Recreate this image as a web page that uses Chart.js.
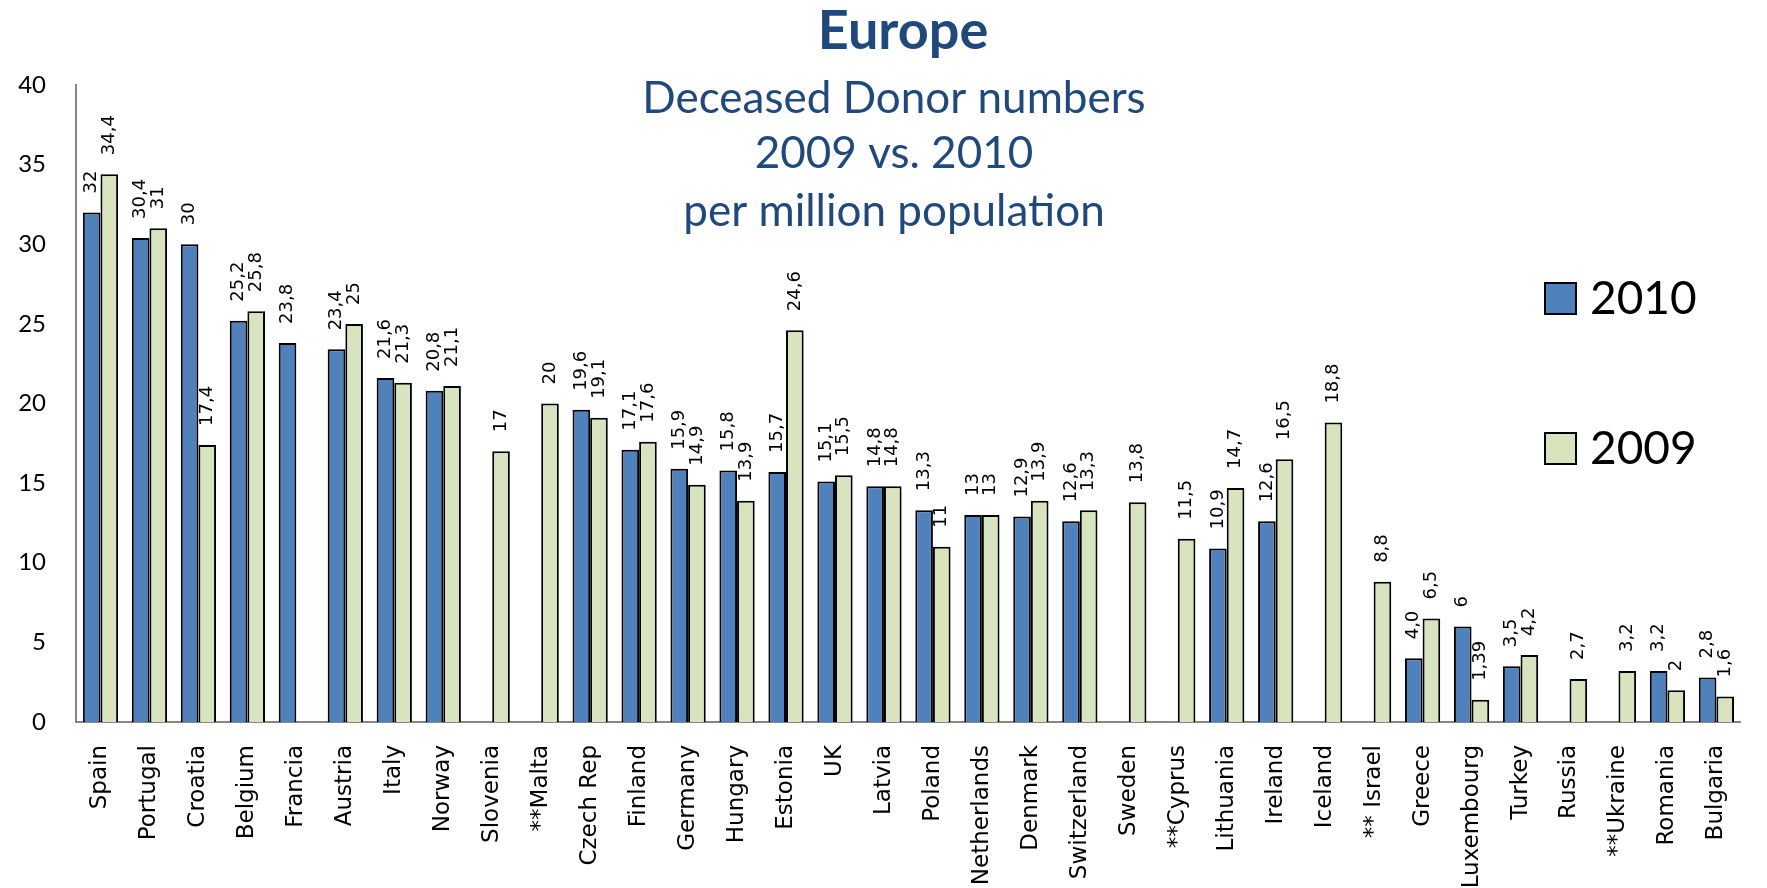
<!DOCTYPE html>
<html>
<head>
<meta charset="utf-8">
<script src="https://cdn.jsdelivr.net/npm/chart.js@4/dist/chart.umd.min.js"></script>
<style>
  html, body { margin: 0; padding: 0; background: #ffffff; }
  #wrap { width: 1767px; height: 888px; }
</style>
</head>
<body>
<div id="wrap"><canvas id="c" width="1767" height="888"></canvas></div>
<script>
// ---- Data ----
const categories = ["Spain", "Portugal", "Croatia", "Belgium", "Francia", "Austria", "Italy", "Norway", "Slovenia", "**Malta",
  "Czech Rep", "Finland", "Germany", "Hungary", "Estonia", "UK", "Latvia", "Poland", "Netherlands", "Denmark",
  "Switzerland", "Sweden", "**Cyprus", "Lithuania", "Ireland", "Iceland", "** Israel", "Greece", "Luxembourg", "Turkey",
  "Russia", "**Ukraine", "Romania", "Bulgaria"];

const values2010 = [32, 30.4, 30, 25.2, 23.8, 23.4, 21.6, 20.8, null, null,
  19.6, 17.1, 15.9, 15.8, 15.7, 15.1, 14.8, 13.3, 13, 12.9,
  12.6, null, null, 10.9, 12.6, null, null, 4.0, 6, 3.5,
  null, null, 3.2, 2.8];

const values2009 = [34.4, 31, 17.4, 25.8, null, 25, 21.3, 21.1, 17, 20,
  19.1, 17.6, 14.9, 13.9, 24.6, 15.5, 14.8, 11, 13, 13.9,
  13.3, 13.8, 11.5, 14.7, 16.5, 18.8, 8.8, 6.5, 1.39, 4.2,
  2.7, 3.2, 2, 1.6];

const labels2010 = ["32", "30,4", "30", "25,2", "23,8", "23,4", "21,6", "20,8", "", "",
  "19,6", "17,1", "15,9", "15,8", "15,7", "15,1", "14,8", "13,3", "13", "12,9",
  "12,6", "", "", "10,9", "12,6", "", "", "4,0", "6", "3,5",
  "", "", "3,2", "2,8"];

const labels2009 = ["34,4", "31", "17,4", "25,8", "", "25", "21,3", "21,1", "17", "20",
  "19,1", "17,6", "14,9", "13,9", "24,6", "15,5", "14,8", "11", "13", "13,9",
  "13,3", "13,8", "11,5", "14,7", "16,5", "18,8", "8,8", "6,5", "1,39", "4,2",
  "2,7", "3,2", "2", "1,6"];

const seriesNames = ["2010", "2009"];
const yTicks = [0, 5, 10, 15, 20, 25, 30, 35, 40];

const titleText = "Europe";
const subtitleLines = ["Deceased Donor numbers", "2009 vs. 2010", "per million population"];

// ---- Plugins ----
const valueLabels = {
  id: 'valueLabels',
  afterDatasetsDraw(chart) {
    const ctx = chart.ctx;
    const lbls = [labels2010, labels2009];
    chart.data.datasets.forEach((ds, i) => {
      const meta = chart.getDatasetMeta(i);
      meta.data.forEach((bar, j) => {
        const v = ds.data[j];
        if (v === null || v === undefined) return;
        ctx.save();
        ctx.translate(bar.x, bar.y - 19);
        ctx.rotate(-Math.PI / 2);
        ctx.font = '18px "DejaVu Sans"';
        ctx.fillStyle = '#000000';
        ctx.textAlign = 'left';
        ctx.textBaseline = 'middle';
        ctx.fillText(lbls[i][j], 0, 0);
        ctx.restore();
      });
    });
  }
};

const overlayText = {
  id: 'overlayText',
  afterDraw(chart) {
    const ctx = chart.ctx;
    ctx.save();
    ctx.fillStyle = '#1F497D';
    ctx.textAlign = 'center';
    ctx.textBaseline = 'middle';
    ctx.font = 'bold 54px Lato';
    ctx.fillText(titleText, 903, 32);
    ctx.font = '44px Lato';
    const ys = [99, 154, 212];
    subtitleLines.forEach((t, k) => ctx.fillText(t, 894, ys[k]));
    // legend
    const ly = [298, 448];
    chart.data.datasets.forEach((ds, i) => {
      ctx.fillStyle = ds.backgroundColor;
      ctx.fillRect(1545, ly[i] - 15, 31, 31);
      ctx.lineWidth = 2;
      ctx.strokeStyle = '#000000';
      ctx.strokeRect(1545, ly[i] - 15, 31, 31);
      ctx.fillStyle = '#000000';
      ctx.textAlign = 'left';
      ctx.font = '46px Lato';
      ctx.fillText(ds.label, 1590, ly[i] + 1);
    });
    ctx.restore();
  }
};

new Chart(document.getElementById('c'), {
  type: 'bar',
  data: {
    labels: categories,
    datasets: [
      { label: seriesNames[0], data: values2010, backgroundColor: '#4F81BD', borderColor: '#000000', borderWidth: 2 },
      { label: seriesNames[1], data: values2009, backgroundColor: '#D7E4BD', borderColor: '#000000', borderWidth: 2 }
    ]
  },
  options: {
    responsive: false,
    animation: false,
    devicePixelRatio: 1,
    layout: { padding: { top: 85, right: 0, left: 0, bottom: 0 } },
    datasets: { bar: { categoryPercentage: 0.72, barPercentage: 1.0 } },
    plugins: {
      legend: { display: false },
      title: { display: false },
      tooltip: { enabled: false }
    },
    scales: {
      x: {
        grid: { display: false, drawTicks: false },
        border: { display: true, color: '#868686', width: 2 },
        ticks: {
          autoSkip: false, minRotation: 90, maxRotation: 90,
          color: '#000000', font: { family: 'DejaVu Sans', size: 23 }, padding: 23
        },
        afterFit(s) { s.height = 166; }
      },
      y: {
        min: 0, max: 40,
        afterBuildTicks(s) { s.ticks = yTicks.map(v => ({ value: v })); },
        grid: { display: false, drawTicks: false },
        border: { display: true, color: '#868686', width: 2 },
        ticks: { color: '#000000', font: { family: 'Lato', size: 24 }, padding: 30 },
        afterFit(s) { s.width = 76; }
      }
    }
  },
  plugins: [valueLabels, overlayText]
});
</script>
</body>
</html>
